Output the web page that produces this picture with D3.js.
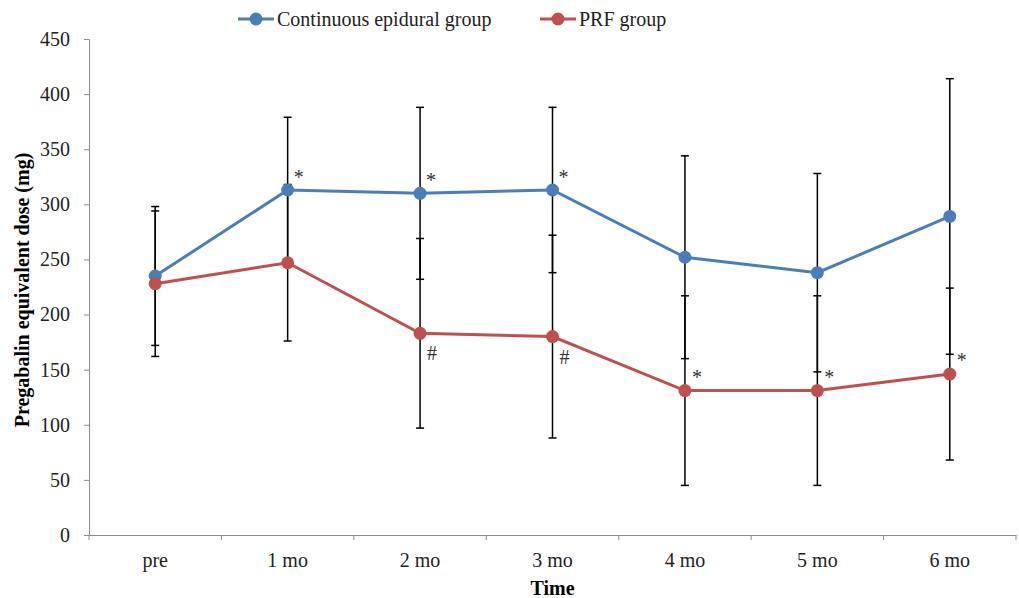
<!DOCTYPE html>
<html>
<head>
<meta charset="utf-8">
<script src="https://cdn.jsdelivr.net/npm/d3@7"></script>
<style>
  body { margin: 0; background: #fff; }
  text { font-family: "Liberation Serif", "Times New Roman", serif; }
</style>
</head>
<body>
<div class="chart"></div>
<script>
// values
const times = ['pre', '1 mo', '2 mo', '3 mo', '4 mo', '5 mo', '6 mo'];
const epiduralMean = [235, 313, 310, 313, 252, 238, 289];
const epiduralSD   = [63, 66, 78, 75, 92, 90, 125];
const prfMean = [228, 247, 183, 180, 131, 131, 146];
const prfSD   = [66, 71, 86, 92, 86, 86, 78];
const epiduralMarks = ['', '*', '*', '*', '', '', ''];
const prfMarks      = ['', '', '#', '#', '*', '*', '*'];
const yTicks = [0, 50, 100, 150, 200, 250, 300, 350, 400, 450];

const width = 1019, height = 598;
const margin = {left: 89, right: 3, top: 39, bottom: 63};
const fs = 20;

const svg = d3.select('.chart').append('svg')
    .attr('width', width)
    .attr('height', height);

const x = d3.scaleBand()
    .domain(times)
    .range([margin.left, width - margin.right]);

const y = d3.scaleLinear()
    .domain([0, 450])
    .range([height - margin.bottom, margin.top]);

// y axis
const yAxis = svg.append('g')
    .attr('transform', `translate(${margin.left},0)`)
    .call(d3.axisLeft(y).tickValues(yTicks).tickSize(5).tickPadding(14));
yAxis.select('.domain').attr('stroke', '#8c8c8c');
yAxis.selectAll('.tick line').attr('stroke', '#8c8c8c');
yAxis.selectAll('text').attr('font-size', fs).attr('fill', '#222');

// x axis with ticks between categories
const xAxis = svg.append('g')
    .attr('transform', `translate(0,${y(0)})`)
    .call(d3.axisBottom(x).tickSize(0).tickPadding(18));
xAxis.select('.domain').attr('stroke', '#8c8c8c');
xAxis.selectAll('text').attr('font-size', fs).attr('fill', '#222');
svg.append('g').selectAll('line')
    .data(times.map(t => x(t)).concat([x(times[times.length - 1]) + x.bandwidth()]))
    .enter()
    .append('line')
    .attr('x1', d => d).attr('x2', d => d)
    .attr('y1', y(0)).attr('y2', y(0) + 5)
    .attr('stroke', '#8c8c8c');

// axis titles
svg.append('text')
    .attr('x', (margin.left + width - margin.right) / 2)
    .attr('y', 595)
    .attr('text-anchor', 'middle')
    .attr('font-size', fs)
    .attr('font-weight', 'bold')
    .text('Time');
svg.append('text')
    .attr('transform', `translate(29,${(margin.top + y(0)) / 2 + 3}) rotate(-90)`)
    .attr('text-anchor', 'middle')
    .attr('font-size', fs)
    .attr('font-weight', 'bold')
    .text('Pregabalin equivalent dose (mg)');

const cx = t => x(t) + x.bandwidth() / 2;

const series = [
  {name: 'Continuous epidural group', mean: epiduralMean, sd: epiduralSD, marks: epiduralMarks, color: '#4a7ebb'},
  {name: 'PRF group', mean: prfMean, sd: prfSD, marks: prfMarks, color: '#c0504d'}
];

// error bars
series.forEach(s => {
  const g = svg.append('g');
  times.forEach((t, i) => {
    const top = y(s.mean[i] + s.sd[i]), bot = y(s.mean[i] - s.sd[i]);
    g.append('line').attr('x1', cx(t)).attr('x2', cx(t)).attr('y1', top).attr('y2', bot)
      .attr('stroke', '#000').attr('stroke-width', 1.5);
    [top, bot].forEach(v => {
      g.append('line').attr('x1', cx(t) - 4).attr('x2', cx(t) + 4).attr('y1', v).attr('y2', v)
        .attr('stroke', '#000').attr('stroke-width', 1.5);
    });
  });
});

// lines and points
const line = d3.line().x((d, i) => cx(times[i])).y(d => y(d));
series.forEach(s => {
  svg.append('path')
      .datum(s.mean)
      .attr('d', line)
      .attr('fill', 'none')
      .attr('stroke', s.color)
      .attr('stroke-width', 3);
  svg.append('g').selectAll('circle')
      .data(s.mean)
      .enter()
      .append('circle')
      .attr('cx', (d, i) => cx(times[i]))
      .attr('cy', d => y(d))
      .attr('r', 6.5)
      .attr('fill', s.color);
});

// significance marks
svg.append('g').selectAll('text')
    .data(epiduralMarks)
    .enter()
    .append('text')
    .attr('x', (d, i) => cx(times[i]) + 11)
    .attr('y', (d, i) => y(epiduralMean[i]) - 6)
    .attr('text-anchor', 'middle')
    .attr('font-size', fs)
    .attr('fill', '#333')
    .text(d => d);
svg.append('g').selectAll('text')
    .data(prfMarks)
    .enter()
    .append('text')
    .attr('x', (d, i) => cx(times[i]) + 12)
    .attr('y', (d, i) => d === '#' ? y(prfMean[i]) + 27 : y(prfMean[i]) - 7)
    .attr('text-anchor', 'middle')
    .attr('font-size', fs)
    .attr('fill', '#333')
    .text(d => d);

// legend
const legendX = [238, 540];
series.forEach((s, i) => {
  const g = svg.append('g').attr('transform', `translate(${legendX[i]},19)`);
  g.append('line').attr('x1', 0).attr('x2', 36).attr('y1', 0).attr('y2', 0)
    .attr('stroke', s.color).attr('stroke-width', 3);
  g.append('circle').attr('cx', 18).attr('cy', 0).attr('r', 6.5).attr('fill', s.color);
  g.append('text').attr('x', 39).attr('y', 7).attr('font-size', fs).attr('fill', '#222').text(s.name);
});
</script>
</body>
</html>
